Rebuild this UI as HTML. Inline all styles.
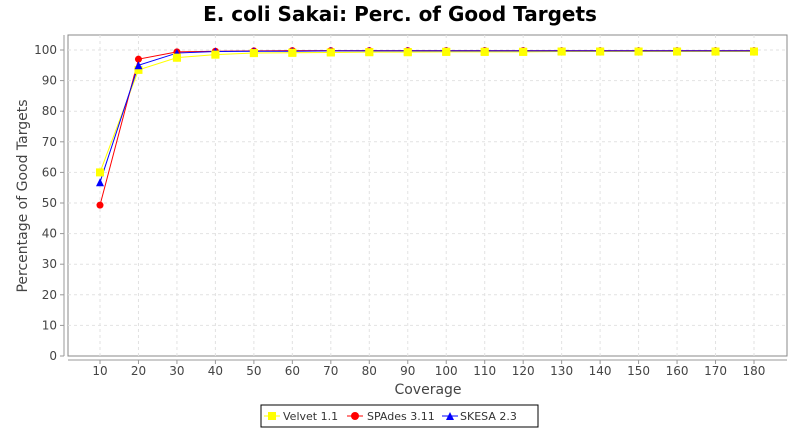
<!DOCTYPE html>
<html><head><meta charset="utf-8"><style>body{margin:0;background:#fff}svg{display:block}</style></head><body>
<svg width="800" height="430" xmlns="http://www.w3.org/2000/svg" font-family="DejaVu Sans, sans-serif">
<rect width="800" height="430" fill="#fff"/>
<text x="400" y="21" text-anchor="middle" font-size="20" font-weight="bold" fill="#000">E. coli Sakai: Perc. of Good Targets</text>
<rect x="68" y="35" width="719" height="321" fill="#fff" stroke="#888" stroke-width="1"/>
<g id="grid" stroke="#e2e2e2" stroke-dasharray="3,3" stroke-width="1"></g>
<line x1="64" y1="35" x2="64" y2="356" stroke="#999"/>
<line x1="68" y1="360" x2="787" y2="360" stroke="#999"/>
<g id="yt" font-size="12" fill="#444" text-anchor="end"></g>
<g id="xt" font-size="12" fill="#444" text-anchor="middle"></g>
<text x="428" y="394" text-anchor="middle" font-size="14" fill="#444">Coverage</text>
<text transform="translate(27,196) rotate(-90)" text-anchor="middle" font-size="14" fill="#444">Percentage of Good Targets</text>
<g id="series"></g>
<rect x="261" y="405" width="277" height="22" fill="#fff" stroke="#000"/>
<line x1="264" y1="416" x2="280" y2="416" stroke="#ff0"/><rect x="268" y="412" width="8" height="8" fill="#ff0"/>
<text x="283" y="420" font-size="11" fill="#333">Velvet 1.1</text>
<line x1="347" y1="416" x2="363" y2="416" stroke="red"/><circle cx="355" cy="416" r="4" fill="red"/>
<text x="367" y="420" font-size="11" fill="#333">SPAdes 3.11</text>
<line x1="442" y1="416" x2="458" y2="416" stroke="blue"/><polygon points="450,412 454,420 446,420" fill="blue"/>
<text x="460" y="420" font-size="11" fill="#333">SKESA 2.3</text>
<script>
const ns="http://www.w3.org/2000/svg";
function el(p,t,a,txt){const e=document.createElementNS(ns,t);for(const k in a)e.setAttribute(k,a[k]);if(txt!==undefined)e.textContent=txt;document.getElementById(p).appendChild(e);}
const X=i=>100+38.47*i, Y=v=>356-3.06*v;
for(let v=0;v<=100;v+=10){const y=Y(v);if(v>0)el('grid','line',{x1:68,x2:787,y1:y,y2:y});el('yt','text',{x:57,y:y+4},v);el('yt','line',{x1:60,x2:64,y1:y,y2:y,stroke:'#999'});}
for(let i=0;i<18;i++){const x=X(i);el('grid','line',{x1:x,x2:x,y1:35,y2:356});el('xt','text',{x:x,y:375},(i+1)*10);el('xt','line',{x1:x,x2:x,y1:360,y2:364,stroke:'#999'});}
const vel=[60,93.5,97.5,98.5,99,99.1,99.2,99.3,99.3,99.4,99.4,99.4,99.5,99.5,99.5,99.5,99.5,99.5];
const sp=[49.3,97,99.4,99.6,99.7,99.8,99.8,99.8,99.8,99.8,99.8,99.8,99.8,99.8,99.8,99.8,99.8,99.8];
const sk=[56.8,95,99,99.5,99.6,99.6,99.7,99.7,99.7,99.7,99.7,99.7,99.7,99.7,99.7,99.7,99.7,99.7];
function line(d,c){el('series','polyline',{points:d.map((v,i)=>X(i)+','+Y(v)).join(' '),fill:'none',stroke:c,'stroke-width':1});}
line(vel,'#ff0');line(sp,'red');line(sk,'blue');
vel.forEach((v,i)=>el('series','rect',{x:X(i)-4,y:Y(v)-4,width:8,height:8,fill:'#ff0'}));
sp.forEach((v,i)=>el('series','circle',{cx:X(i),cy:Y(v),r:3.5,fill:'red'}));
sk.forEach((v,i)=>{const x=X(i),y=Y(v);el('series','polygon',{points:`${x},${y-4} ${x+4},${y+4} ${x-4},${y+4}`,fill:'blue'});});
vel.forEach((v,i)=>{if(i>=2)el('series','rect',{x:X(i)-4,y:Y(v)-4,width:8,height:8,fill:'#ff0'});});
</script>
</svg>
</body></html>
